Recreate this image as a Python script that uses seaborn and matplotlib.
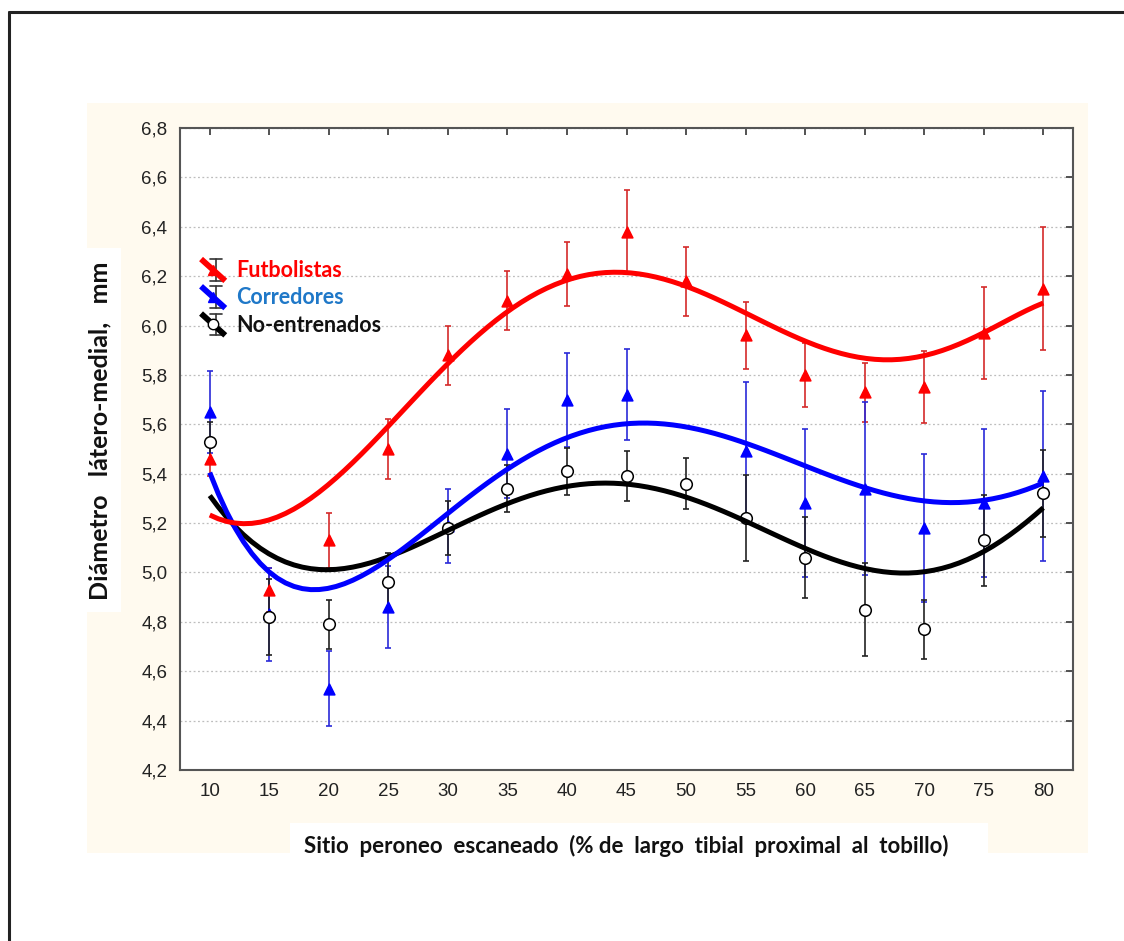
import numpy as np
import pandas as pd
import matplotlib
matplotlib.use("Agg")
import matplotlib.pyplot as plt
from matplotlib.lines import Line2D
from matplotlib.patches import Rectangle
from matplotlib.legend_handler import HandlerBase
import seaborn as sns

# ---------------- data ----------------
sites = [10, 15, 20, 25, 30, 35, 40, 45, 50, 55, 60, 65, 70, 75, 80]

# group means and error bars
futbol_mean = [5.46, 4.93, 5.13, 5.50, 5.88, 6.10, 6.21, 6.38, 6.18, 5.96, 5.80, 5.73, 5.75, 5.97, 6.15]
futbol_err = [0.07, 0.09, 0.11, 0.12, 0.12, 0.12, 0.13, 0.17, 0.14, 0.135, 0.13, 0.12, 0.145, 0.185, 0.25]

corred_mean = [5.65, 4.83, 4.53, 4.86, 5.19, 5.48, 5.70, 5.72, np.nan, 5.49, 5.28, 5.34, 5.18, 5.28, 5.39]
corred_err = [0.165, 0.19, 0.15, 0.165, 0.15, 0.18, 0.19, 0.185, np.nan, 0.28, 0.30, 0.35, 0.30, 0.30, 0.345]

noent_mean = [5.53, 4.82, 4.79, 4.96, 5.18, 5.34, 5.41, 5.39, 5.36, 5.22, 5.06, 4.85, 4.77, 5.13, 5.32]
noent_err = [0.08, 0.155, 0.10, 0.12, 0.11, 0.095, 0.095, 0.10, 0.105, 0.175, 0.165, 0.19, 0.12, 0.185, 0.175]

# values of the fitted (smoothed) curves read at each site
futbol_fit = [5.23, 5.225, 5.34, 5.595, 5.86, 6.05, 6.177, 6.214, 6.171, 6.043, 5.935, 5.87, 5.881, 5.968, 6.092]
corred_fit = [5.378, 5.06, 4.942, 5.003, 5.212, 5.428, 5.577, 5.628, 5.597, 5.496, 5.408, 5.341, 5.304, 5.31, 5.35]
noent_fit = [5.311, 5.077, 5.007, 5.061, 5.179, 5.28, 5.341, 5.354, 5.307, 5.219, 5.091, 5.017, 4.997, 5.091, 5.26]

group_names = ["Futbolistas", "Corredores", "No-entrenados"]
y_ticks = [4.2, 4.4, 4.6, 4.8, 5.0, 5.2, 5.4, 5.6, 5.8, 6.0, 6.2, 6.4, 6.6, 6.8]

x_label = "Sitio  peroneo  escaneado  (% de  largo  tibial  proximal  al  tobillo)"
y_label = "Diámetro   látero-medial,   mm"

# ---------------- style ----------------
sns.set_style("white")
plt.rcParams["font.family"] = ["Liberation Sans", "DejaVu Sans"]

W, H = 1124, 941
fig = plt.figure(figsize=(W / 100, H / 100), dpi=100)


def fig_rect(x0, y0, x1, y1, color, z):
    fig.add_artist(Rectangle((x0 / W, 1 - y1 / H), (x1 - x0) / W, (y1 - y0) / H,
                             transform=fig.transFigure, facecolor=color,
                             edgecolor="none", zorder=z))


# background panel (cream), white label boxes and outer frame
fig_rect(87, 103, 1088, 853, "#fffaef", -10)
fig_rect(290, 823, 988, 860, "white", -9)
fig_rect(87, 248, 121, 612, "white", -9)
fig.add_artist(Line2D([9 / W, 9 / W], [0, 1 - 12 / H], color="#222222", lw=2.2,
                      transform=fig.transFigure, zorder=-5))
fig.add_artist(Line2D([9 / W, 1], [1 - 12 / H, 1 - 12 / H], color="#222222", lw=2.2,
                      transform=fig.transFigure, zorder=-5))

ax = fig.add_axes([180 / W, 1 - 770 / H, (1073 - 180) / W, (770 - 128) / H])
ax.set_zorder(1)
ax.set_facecolor("white")

series = [
    (group_names[0], futbol_mean, futbol_err, futbol_fit, "#ff0000", "#d42a2a", "^", "#ff0000", "#ff0000"),
    (group_names[1], corred_mean, corred_err, corred_fit, "#0000ff", "#2a2ad8", "^", "#0000ff", "#0000ff"),
    (group_names[2], noent_mean, noent_err, noent_fit, "#000000", "#222222", "o", "white", "#000000"),
]

# error bars and markers
for name, m, e, f, col, ecol, mk, mfc, mec in series:
    df = pd.DataFrame({"x": sites, "y": m, "e": e}).dropna()
    ax.errorbar(df["x"], df["y"], yerr=df["e"], fmt="none", ecolor=ecol,
                elinewidth=1.2, capsize=2.5, capthick=1.2, zorder=3)
    sns.scatterplot(data=df, x="x", y="y", marker=mk, s=70 if mk == "o" else 60,
                    color=mfc, edgecolor=mec, linewidth=1.1, ax=ax, zorder=4,
                    legend=False)

# fitted curves
curve_z = {"No-entrenados": 5, "Corredores": 6, "Futbolistas": 7}
curve_order = {"No-entrenados": 6, "Corredores": 5, "Futbolistas": 6}
for name, m, e, f, col, ecol, mk, mfc, mec in series:
    df = pd.DataFrame({"x": sites, "y": f})
    sns.regplot(data=df, x="x", y="y", order=curve_order[name], ci=None, scatter=False,
                truncate=True,
                line_kws={"color": col, "lw": 3.6, "zorder": curve_z[name],
                          "solid_capstyle": "butt"}, ax=ax)

# axes formatting
ax.set_xlim(7.5, 82.5)
ax.set_ylim(4.2, 6.8)
ax.set_xticks(sites)
ax.set_xticklabels([str(s) for s in sites])
ax.set_yticks(y_ticks)
ax.set_yticklabels([f"{v:.1f}".replace(".", ",") for v in y_ticks])
ax.tick_params(axis="both", which="both", direction="in", top=True, right=True,
               length=5, width=1.3, color="#444444", labelsize=13.5,
               labelcolor="#222222", pad=9)
ax.yaxis.grid(True, linestyle=(0, (1.5, 2)), color="#bdbdbd", lw=0.9)
ax.xaxis.grid(False)
ax.set_axisbelow(True)
for sp in ax.spines.values():
    sp.set_color("#555555")
    sp.set_linewidth(1.5)

lab_font = ["Lato", "DejaVu Sans"]
ax.set_xlabel(x_label, fontsize=16, fontweight="bold", family=lab_font, color="#111111")
ax.xaxis.set_label_coords(0.5, -0.101)
ax.set_ylabel(y_label, fontsize=18, fontweight="bold", family=lab_font, color="#111111")
ax.yaxis.set_label_coords(-0.077, 0.528)


# legend with custom keys
class Key:
    def __init__(self, line_col, bar_col, marker, mfc, mec):
        self.line_col = line_col
        self.bar_col = bar_col
        self.marker = marker
        self.mfc = mfc
        self.mec = mec


class KeyHandler(HandlerBase):
    def create_artists(self, legend, orig, xdescent, ydescent, width, height, fontsize, trans):
        x0, y0 = -xdescent, -ydescent
        xc, yc = x0 + width * 0.5, y0 + height * 0.5
        top, bot = y0 + height * 1.2, y0 - height * 0.25
        bx = xc + width * 0.12
        bar = Line2D([bx, bx], [bot, top], color=orig.bar_col, lw=1.2, transform=trans)
        cap1 = Line2D([bx - width * 0.22, bx + width * 0.22], [top, top],
                      color=orig.bar_col, lw=1.2, transform=trans)
        cap2 = Line2D([bx - width * 0.22, bx + width * 0.22], [bot, bot],
                      color=orig.bar_col, lw=1.2, transform=trans)
        diag = Line2D([x0 + width * 0.05, x0 + width * 0.95], [top, bot],
                      color=orig.line_col, lw=4.2, solid_capstyle="butt", transform=trans)
        mk = Line2D([xc], [yc], marker=orig.marker, markersize=7.5,
                    markerfacecolor=orig.mfc, markeredgecolor=orig.mec, lw=0,
                    transform=trans)
        return [bar, cap1, cap2, diag, mk]


keys = [Key("#ff0000", "#333333", "^", "#ff0000", "#ff0000"),
        Key("#0000ff", "#333333", "^", "#0000ff", "#0000ff"),
        Key("#000000", "#333333", "o", "white", "#000000")]
leg = ax.legend(keys, group_names, handler_map={Key: KeyHandler()},
                loc="upper left", bbox_to_anchor=(0.010, 0.811), frameon=False,
                handlelength=1.25, handletextpad=0.45, labelspacing=0.29,
                borderpad=0, prop={"family": lab_font, "weight": "bold", "size": 15.5})
for txt, c in zip(leg.get_texts(), ["#ff0000", "#1f78c8", "#111111"]):
    txt.set_color(c)

fig.savefig("out.png", dpi=100, facecolor="white")
